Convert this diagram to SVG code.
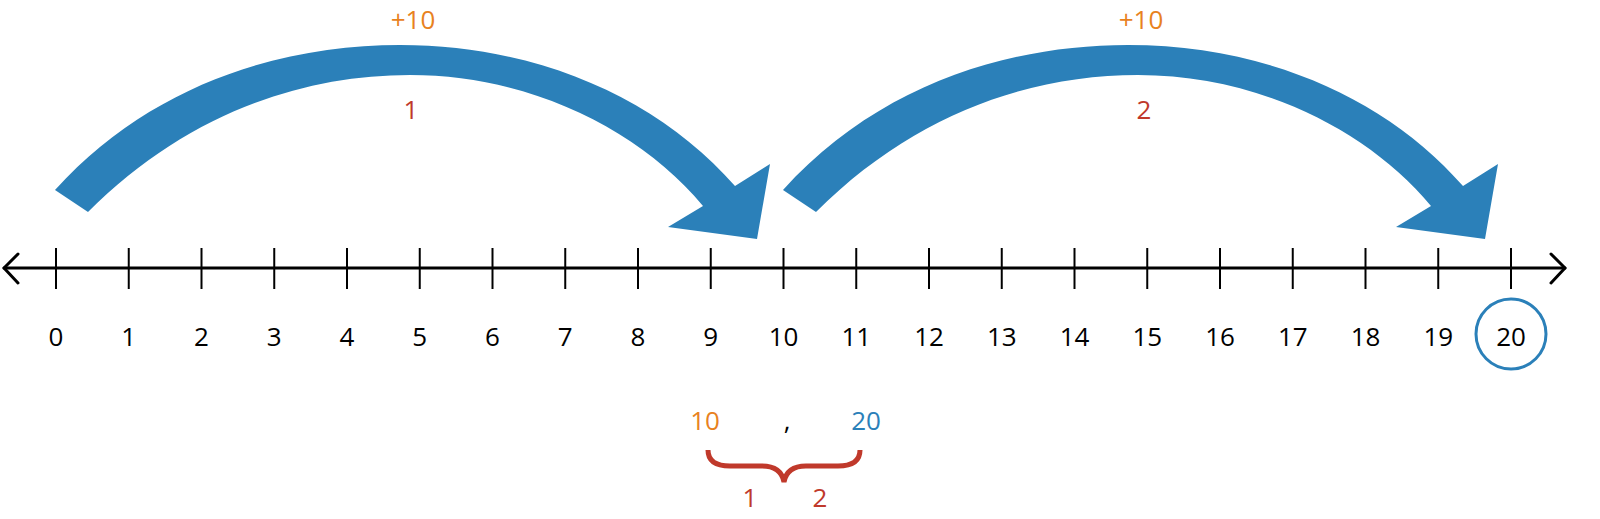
<svg xmlns="http://www.w3.org/2000/svg" width="1600" height="519" viewBox="0 0 1600 519">
<style>
.axis{stroke:#000;stroke-width:3;fill:none;stroke-linecap:round;stroke-linejoin:round}
.tick{stroke:#000;stroke-width:2}
.num{font-family:"Open Sans","Liberation Sans",sans-serif;font-size:26px;text-anchor:middle;fill:#000}
.or{fill:#E8821E}
.rd{fill:#C0392B}
.bl{fill:#2B80B9}
.jump{fill:#2B80B9}
</style>
<rect width="1600" height="519" fill="#fff"/>
<g id="connectors">
<path id="jump1" class="jump" d="M55,190 C150,85 280,45 400,45 C540,45 660,100 735,186 L770,164 L757,239 L668,227 L703,206 C640,130 530,75 410,75 C300,75 185,115 88,212 Z"/>
<path id="jump2" class="jump" transform="translate(728,0)" d="M55,190 C150,85 280,45 400,45 C540,45 660,100 735,186 L770,164 L757,239 L668,227 L703,206 C640,130 530,75 410,75 C300,75 185,115 88,212 Z"/>
</g>
<g id="numberline">
<line class="axis" x1="4" y1="268" x2="1565" y2="268"/>
<polyline class="axis" points="18,254 4,268 18,283"/>
<polyline class="axis" points="1551,254 1565,268 1551,283"/>
<g class="tick">
<line x1="56" y1="248" x2="56" y2="289"/><line x1="128.75" y1="248" x2="128.75" y2="289"/><line x1="201.5" y1="248" x2="201.5" y2="289"/><line x1="274.25" y1="248" x2="274.25" y2="289"/><line x1="347" y1="248" x2="347" y2="289"/><line x1="419.75" y1="248" x2="419.75" y2="289"/><line x1="492.5" y1="248" x2="492.5" y2="289"/><line x1="565.25" y1="248" x2="565.25" y2="289"/><line x1="638" y1="248" x2="638" y2="289"/><line x1="710.75" y1="248" x2="710.75" y2="289"/><line x1="783.5" y1="248" x2="783.5" y2="289"/><line x1="856.25" y1="248" x2="856.25" y2="289"/><line x1="929" y1="248" x2="929" y2="289"/><line x1="1001.75" y1="248" x2="1001.75" y2="289"/><line x1="1074.5" y1="248" x2="1074.5" y2="289"/><line x1="1147.25" y1="248" x2="1147.25" y2="289"/><line x1="1220" y1="248" x2="1220" y2="289"/><line x1="1292.75" y1="248" x2="1292.75" y2="289"/><line x1="1365.5" y1="248" x2="1365.5" y2="289"/><line x1="1438.25" y1="248" x2="1438.25" y2="289"/><line x1="1511" y1="248" x2="1511" y2="289"/>
</g>
<g class="num">
<text x="56" y="346">0</text><text x="128.75" y="346">1</text><text x="201.5" y="346">2</text><text x="274.25" y="346">3</text><text x="347" y="346">4</text><text x="419.75" y="346">5</text><text x="492.5" y="346">6</text><text x="565.25" y="346">7</text><text x="638" y="346">8</text><text x="710.75" y="346">9</text><text x="783.5" y="346">10</text><text x="856.25" y="346">11</text><text x="929" y="346">12</text><text x="1001.75" y="346">13</text><text x="1074.5" y="346">14</text><text x="1147.25" y="346">15</text><text x="1220" y="346">16</text><text x="1292.75" y="346">17</text><text x="1365.5" y="346">18</text><text x="1438.25" y="346">19</text><text x="1511" y="346">20</text>
</g>
<circle id="answer-circle" cx="1511" cy="334" r="35" fill="none" stroke="#2B80B9" stroke-width="3"/>
</g>
<g id="labels">
<text class="num or" x="413" y="29">+10</text>
<text class="num or" x="1141" y="29">+10</text>
<text class="num rd" x="411" y="119">1</text>
<text class="num rd" x="1144" y="119">2</text>
</g>
<g id="summary">
<text class="num or" x="705" y="430">10</text>
<text class="num" x="787" y="430">,</text>
<text class="num bl" x="866" y="430">20</text>
<path d="M708,450 Q708,466 730,466 L762,466 Q781,466 784,482 Q787,466 806,466 L838,466 Q860,466 860,450" fill="none" stroke="#C0392B" stroke-width="5"/>
<text class="num rd" x="750" y="507">1</text>
<text class="num rd" x="820" y="507">2</text>
</g>
</svg>
